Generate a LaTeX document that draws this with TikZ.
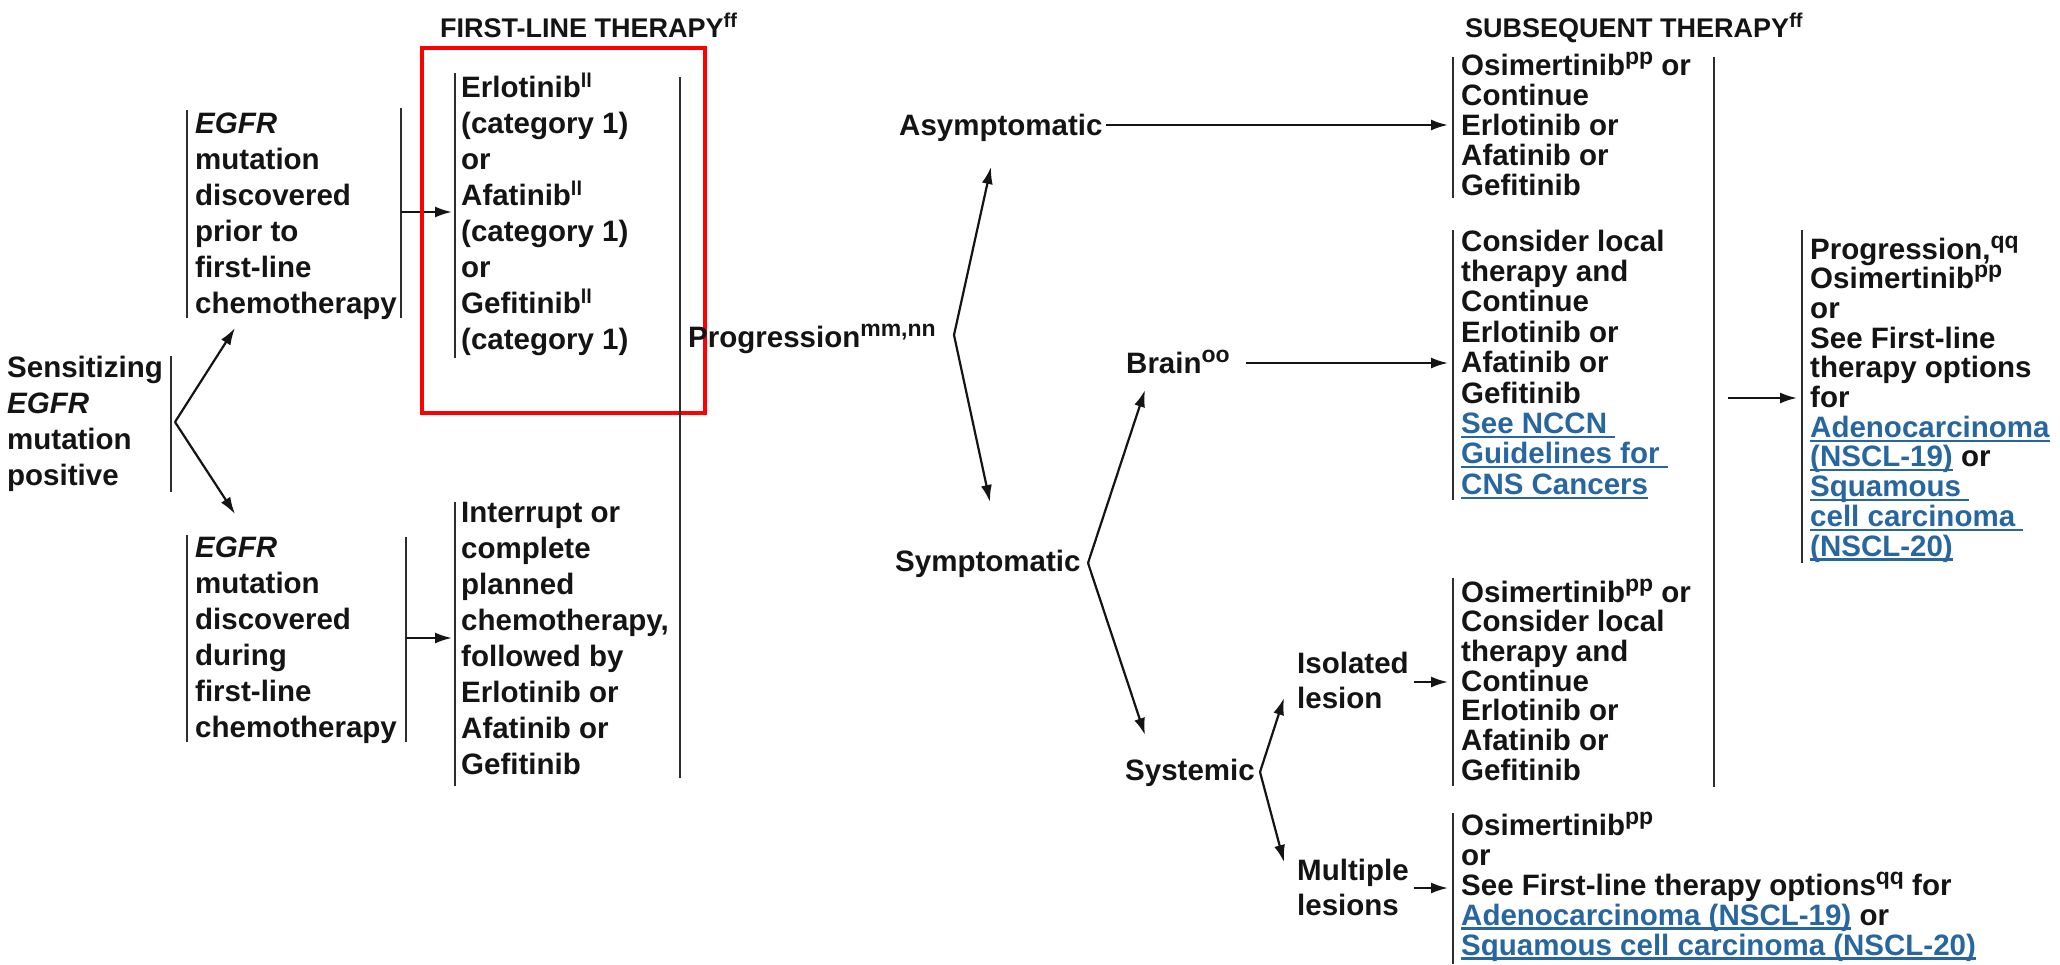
\documentclass[tikz,border=0pt]{standalone}
\usepackage{fontspec}
\setmainfont{Liberation Sans}
\usetikzlibrary{arrows.meta}
\definecolor{ink}{RGB}{20,20,20}
\definecolor{linkblue}{RGB}{40,102,160}
\definecolor{barcol}{RGB}{45,45,45}
\newcommand\sups[1]{\raisebox{10pt}{\fontsize{20}{20}\selectfont #1}}
\newcommand\supb[1]{\raisebox{11pt}{\fontsize{23}{23}\selectfont #1}}
\newcommand\lnk[1]{\leavevmode{\color{linkblue}\setbox0=\hbox{#1}\rlap{\rule[-4.5pt]{\wd0}{2.2pt}}\box0}}
\newcommand\blk[2]{\parbox[t]{640pt}{\fontsize{29.5}{#1}\selectfont\raggedright\lineskiplimit=-100pt #2}}
\begin{document}
\begin{tikzpicture}[x=1pt,y=-1pt,
  lab/.style={anchor=base west, inner sep=0pt, text=ink, font=\fontsize{29.5}{35}\selectfont\bfseries},
  ttl/.style={anchor=base west, inner sep=0pt, text=ink, font=\fontsize{27}{30}\selectfont\bfseries},
  bar/.style={draw=barcol, line width=2pt},
  arr/.style={draw=ink, line width=2.2pt, -{Latex[length=17pt,width=11pt]}},
  redbox/.style={draw=red, line width=4pt}
]
\useasboundingbox (0,0) rectangle (2060,964);
\fill[white] (0,0) rectangle (2060,964);

% titles
\node[ttl] (t1) at (440,37) {FIRST-LINE THERAPY\sups{ff}};
\node[ttl] (t2) at (1465,37) {SUBSEQUENT THERAPY\sups{ff}};

% left column
\node[lab] (sens) at (7,377) {\blk{36}{Sensitizing\\\textit{EGFR}\\mutation\\positive}};
\draw[bar] (171,356) -- (171,492);
\coordinate (sv) at (175,422);
\coordinate (e1in) at (235,328);
\coordinate (e2in) at (235,514);
\draw[arr] (sv) -- (e1in);
\draw[arr] (sv) -- (e2in);

\node[lab] (egfr1) at (195,133) {\blk{36}{\textit{EGFR}\\mutation\\discovered\\prior to\\first-line\\chemotherapy}};
\draw[bar] (187,110) -- (187,318);
\draw[bar] (401,108) -- (401,318);
\coordinate (e1out) at (401,212);
\coordinate (f1in) at (452,212);
\draw[arr] (e1out) -- (f1in);

\node[lab] (fl1) at (461,97) {\blk{36.1}{Erlotinib\sups{ll}\\(category 1)\\or\\Afatinib\sups{ll}\\(category 1)\\or\\Gefitinib\sups{ll}\\(category 1)}};
\draw[bar] (455,73) -- (455,358);
\draw[redbox] (422,48) rectangle (705,413);

\node[lab] (egfr2) at (195,557) {\blk{36}{\textit{EGFR}\\mutation\\discovered\\during\\first-line\\chemotherapy}};
\draw[bar] (187,535) -- (187,742);
\draw[bar] (406,537) -- (406,742);
\coordinate (e2out) at (406,638);
\coordinate (f2in) at (452,638);
\draw[arr] (e2out) -- (f2in);

\node[lab] (fl2) at (461,522) {\blk{36}{Interrupt or\\complete\\planned\\chemotherapy,\\followed by\\Erlotinib or\\Afatinib or\\Gefitinib}};
\draw[bar] (455,502) -- (455,786);
\draw[bar] (680,77) -- (680,778);

% middle
\node[lab] (prog) at (688,347) {Progression\supb{mm,nn}};
\coordinate (pv) at (954,335);
\coordinate (asin) at (991,167);
\coordinate (syin) at (990,502);
\draw[arr] (pv) -- (asin);
\draw[arr] (pv) -- (syin);

\node[lab] (asym) at (899,135) {Asymptomatic};
\node[lab] (symp) at (895,571) {Symptomatic};
\coordinate (smv) at (1088,563);
\coordinate (brin) at (1145,390);
\coordinate (sysin) at (1145,735);
\draw[arr] (smv) -- (brin);
\draw[arr] (smv) -- (sysin);

\node[lab] (brain) at (1126,373) {Brain\supb{oo}};
\node[lab] (syst) at (1125,780) {Systemic};
\coordinate (yv) at (1260,772);
\coordinate (isin) at (1284,698);
\coordinate (muin) at (1284,862);
\draw[arr] (yv) -- (isin);
\draw[arr] (yv) -- (muin);

\node[lab] (iso) at (1297,673) {\blk{35}{Isolated\\lesion}};
\node[lab] (mult) at (1297,880) {\blk{35}{Multiple\\lesions}};

% connectors to right boxes
\coordinate (asout) at (1106,125);
\coordinate (abin) at (1448,125);
\draw[arr] (asout) -- (abin);
\coordinate (brout) at (1246,363);
\coordinate (bbin) at (1448,363);
\draw[arr] (brout) -- (bbin);
\coordinate (isout) at (1414,682);
\coordinate (ibin) at (1448,682);
\draw[arr] (isout) -- (ibin);
\coordinate (muout) at (1414,888);
\coordinate (mbin) at (1448,888);
\draw[arr] (muout) -- (mbin);

% right boxes
\node[lab] (abox) at (1461,75) {\blk{30}{Osimertinib\supb{pp} or\\Continue\\Erlotinib or\\Afatinib or\\Gefitinib}};
\draw[bar] (1453,57) -- (1453,198);

\node[lab] (bbox) at (1461,251) {\blk{30.4}{Consider local\\therapy and\\Continue\\Erlotinib or\\Afatinib or\\Gefitinib\\\lnk{See NCCN\ }\\\lnk{Guidelines for\ }\\\lnk{CNS Cancers}}};
\draw[bar] (1453,230) -- (1453,500);

\node[lab] (ibox) at (1461,602) {\blk{29.7}{Osimertinib\supb{pp} or\\Consider local\\therapy and\\Continue\\Erlotinib or\\Afatinib or\\Gefitinib}};
\draw[bar] (1453,578) -- (1453,786);

\node[lab] (mbox) at (1461,835) {\blk{30}{Osimertinib\supb{pp}\\or\\See First-line therapy options\supb{qq} for\\\lnk{Adenocarcinoma (NSCL-19)} or\\\lnk{Squamous cell carcinoma (NSCL-20)}}};
\draw[bar] (1453,813) -- (1453,964);

\draw[bar] (1714,57) -- (1714,787);
\coordinate (sqout) at (1728,398);
\coordinate (pbin) at (1797,398);
\draw[arr] (sqout) -- (pbin);

\node[lab] (pbox) at (1810,259) {\blk{29.7}{Progression,\supb{qq}\\Osimertinib\supb{pp}\\or\\See First-line\\therapy options\\for\\\lnk{Adenocarcinoma}\\\lnk{(NSCL-19)} or\\\lnk{Squamous\ }\\\lnk{cell carcinoma\ }\\\lnk{(NSCL-20)}}};
\draw[bar] (1802,230) -- (1802,563);
\end{tikzpicture}
\end{document}
